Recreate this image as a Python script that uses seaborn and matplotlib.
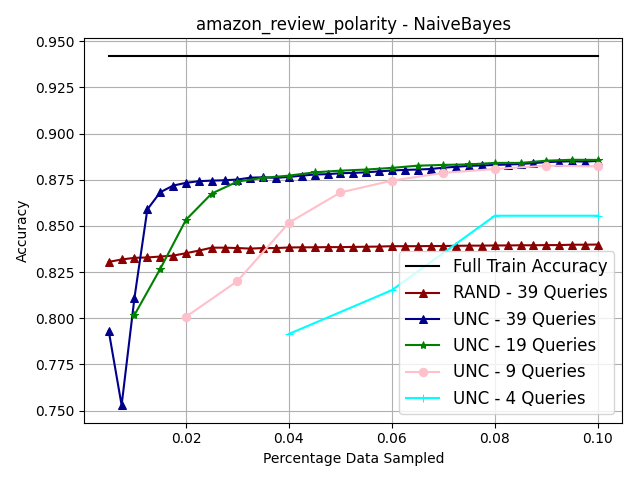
import numpy as np
import pandas as pd
import seaborn as sns
import matplotlib
matplotlib.use("Agg")
import matplotlib.pyplot as plt

# sample fractions
x_39 = [round(0.005 + 0.0025 * i, 4) for i in range(39)]
x_19 = [round(0.01 + 0.005 * i, 4) for i in range(19)]
x_9 = [0.02, 0.03, 0.04, 0.05, 0.06, 0.07, 0.08, 0.09, 0.10]
x_4 = [0.04, 0.06, 0.08, 0.10]
x_full = [0.005, 0.10]

full_train = [0.9421, 0.9421]

rand_39 = [0.8305, 0.8318, 0.8327, 0.8329, 0.8334, 0.8339, 0.8352, 0.8366,
           0.8382, 0.8382, 0.8380, 0.8377, 0.8380, 0.8380, 0.8383, 0.8384,
           0.8384, 0.8385, 0.8385, 0.8386, 0.8387, 0.8388, 0.8390, 0.8390,
           0.8390, 0.8391, 0.8391, 0.8392, 0.8393, 0.8393, 0.8394, 0.8394,
           0.8395, 0.8395, 0.8396, 0.8396, 0.8398, 0.8398, 0.8399]

unc_39 = [0.7931, 0.7529, 0.8111, 0.8589, 0.8682, 0.8718, 0.8733, 0.8742,
          0.8745, 0.8747, 0.8751, 0.8761, 0.8763, 0.8760, 0.8765, 0.8772,
          0.8778, 0.8780, 0.8785, 0.8787, 0.8790, 0.8795, 0.8800, 0.8803,
          0.8805, 0.8808, 0.8815, 0.8820, 0.8825, 0.8827, 0.8830, 0.8832,
          0.8835, 0.8840, 0.8845, 0.8848, 0.8850, 0.8848, 0.8852]

unc_19 = [0.8018, 0.8267, 0.8533, 0.8675, 0.8740, 0.8760, 0.8772, 0.8790,
          0.8799, 0.8805, 0.8814, 0.8826, 0.8830, 0.8833, 0.8841, 0.8841,
          0.8853, 0.8858, 0.8857]

unc_9 = [0.8008, 0.8201, 0.8517, 0.8681, 0.8745, 0.8787, 0.8808, 0.8826,
         0.8822]

unc_4 = [0.7915, 0.8152, 0.8555, 0.8555]


def main():
    fig, ax = plt.subplots(figsize=(6.4, 4.8), dpi=100)

    series = [
        (x_full, full_train, "Full Train Accuracy", "black", None),
        (x_39, rand_39, "RAND - 39 Queries", "darkred", "^"),
        (x_39, unc_39, "UNC - 39 Queries", "darkblue", "^"),
        (x_19, unc_19, "UNC - 19 Queries", "green", "*"),
        (x_9, unc_9, "UNC - 9 Queries", "pink", "o"),
        (x_4, unc_4, "UNC - 4 Queries", "cyan", "+"),
    ]
    for xs, ys, label, color, marker in series:
        sns.lineplot(x=xs, y=ys, ax=ax, label=label, color=color,
                     marker=marker, markersize=6 if marker else 0,
                     markeredgecolor=color, linewidth=1.5)

    ax.set_title("amazon_review_polarity - NaiveBayes")
    ax.set_xlabel("Percentage Data Sampled")
    ax.set_ylabel("Accuracy")
    ax.set_yticks(np.arange(0.75, 0.951, 0.025))
    ax.set_xticks([0.02, 0.04, 0.06, 0.08, 0.10])
    ax.grid(True)
    ax.legend(loc="lower right", fontsize=12)

    fig.subplots_adjust(left=0.1317, right=0.9723, top=0.9202, bottom=0.1194)
    plt.savefig("out.png", dpi=100)


if __name__ == "__main__":
    main()
